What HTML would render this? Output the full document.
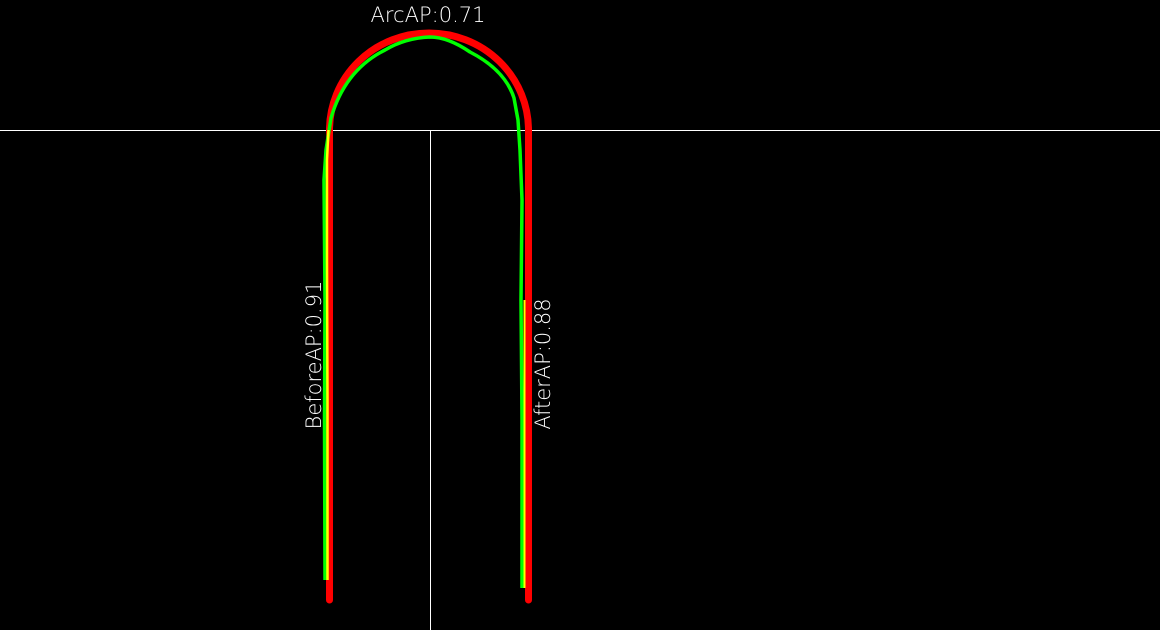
<!DOCTYPE html>
<html><head><meta charset="utf-8"><style>
html,body{margin:0;padding:0;background:#000;width:1160px;height:630px;overflow:hidden}
svg{display:block}
text{font-family:"DejaVu Sans","Liberation Sans",sans-serif;fill:#fff;font-weight:200}
</style></head><body>
<svg id="c" width="1160" height="630"></svg>
<script>
const labels = ["ArcAP", "BeforeAP", "AfterAP"];
const apValues = [0.71, 0.91, 0.88];
const NS = "http://www.w3.org/2000/svg";
const svg = document.getElementById('c');
function add(tag, attrs, name){
  const e = document.createElementNS(NS, tag);
  for (const k in attrs) e.setAttribute(k, attrs[k]);
  
  
  svg.appendChild(e); return e;
}
add('line',{x1:0,y1:130.5,x2:1160,y2:130.5,stroke:'#fff','stroke-width':1},'horizontal-reference-line');
add('line',{x1:430.5,y1:130,x2:430.5,y2:630,stroke:'#fff','stroke-width':1},'vertical-reference-line');
add('path',{d:'M329.5,600 L329.5,130 A99.5,97 0 0 1 528.5,130 L528.5,600',fill:'none',stroke:'#ff0000','stroke-width':7,'stroke-linecap':'round'},'ground-truth-path');
add('path',{d:'M325,580 L324.5,420 L325,300 L324,180 L326,150 L331,118 Q345,70 385,50 Q405,38 430,37 Q448,37 470,52 Q505,70 514,98 L518,120 L520,150 L522,200 L521,300 L522,420 L522,588',fill:'none',stroke:'#00ff00','stroke-width':3.5},'predicted-path');
add('path',{d:'M327.5,580 L327.5,400 L327,260 L327,160 L328.5,130',fill:'none',stroke:'#ffff00','stroke-width':2.5},'before-overlap-path');
add('path',{d:'M524.5,588 L524.5,400 L524.5,300',fill:'none',stroke:'#ffff00','stroke-width':2},'after-overlap-path');
const t1 = add('text',{x:428,y:22,'font-size':21,'text-anchor':'middle'},'arc-ap-label');
t1.textContent = labels[0] + ':' + apValues[0].toFixed(2);
const t2 = add('text',{x:0,y:0,'font-size':21,'text-anchor':'middle',transform:'translate(321,355) rotate(-90)'},'before-ap-label');
t2.textContent = labels[1] + ':' + apValues[1].toFixed(2);
const t3 = add('text',{x:0,y:0,'font-size':21,'text-anchor':'middle',transform:'translate(550,364) rotate(-90)'},'after-ap-label');
t3.textContent = labels[2] + ':' + apValues[2].toFixed(2);
</script>
</body></html>
